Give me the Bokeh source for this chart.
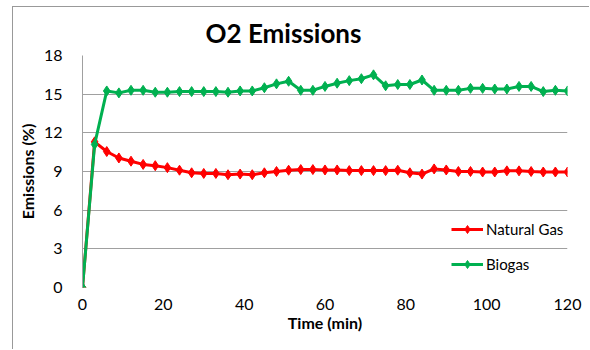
from bokeh.plotting import figure
from bokeh.models import FixedTicker, Legend, LegendItem, Range1d
from bokeh.embed import file_html
from bokeh.resources import INLINE

time_min = [0, 3, 6, 9, 12, 15, 18, 21, 24, 27, 30, 33, 36, 39, 42, 45, 48, 51, 54, 57,
            60, 63, 66, 69, 72, 75, 78, 81, 84, 87, 90, 93, 96, 99, 102, 105, 108, 111,
            114, 117, 120]
natural_gas = [0, 11.3, 10.55, 10.05, 9.8, 9.55, 9.45, 9.3, 9.1, 8.9, 8.85, 8.85, 8.75,
               8.8, 8.75, 8.9, 9.0, 9.1, 9.15, 9.15, 9.12, 9.12, 9.07, 9.07, 9.07, 9.07,
               9.1, 8.9, 8.8, 9.2, 9.12, 9.0, 9.0, 8.96, 8.96, 9.05, 9.05, 9.0, 8.96,
               8.96, 8.96]
biogas = [0, 11.1, 15.25, 15.1, 15.3, 15.3, 15.15, 15.15, 15.2, 15.2, 15.2, 15.2, 15.15,
          15.25, 15.25, 15.5, 15.8, 16.0, 15.3, 15.3, 15.6, 15.85, 16.05, 16.2, 16.5,
          15.65, 15.75, 15.75, 16.1, 15.3, 15.3, 15.3, 15.45, 15.45, 15.4, 15.4, 15.6,
          15.6, 15.2, 15.3, 15.25]
x_ticks = [0, 20, 40, 60, 80, 100, 120]
y_ticks = [0, 3, 6, 9, 12, 15, 18]

FONT = "Lato"
RED = "#ff0000"
GREEN = "#00b050"
GRID = "#a0a0a0"

p = figure(width=577, height=343, output_backend="svg", toolbar_location=None,
           x_range=Range1d(0, 120), y_range=Range1d(0, 18),
           min_border_left=69, min_border_right=23, min_border_top=48,
           min_border_bottom=63)
p.margin = (6, 0, 0, 12)
p.styles = {"border-left": "1px solid #999999", "border-top": "1px solid #999999"}

p.title.text = "O2 Emissions"
p.title.align = "left"
p.title.offset = 123
p.title.standoff = 14
p.title.text_font = FONT
p.title.text_font_size = "26px"
p.title.text_font_style = "bold"
p.title.text_color = "#000000"

p.outline_line_color = None
p.background_fill_color = "white"
p.border_fill_color = "white"

p.xgrid.grid_line_color = None
p.ygrid.grid_line_color = GRID
p.ygrid.ticker = FixedTicker(ticks=y_ticks)

p.xaxis.ticker = FixedTicker(ticks=x_ticks)
p.yaxis.ticker = FixedTicker(ticks=y_ticks)
p.xaxis.axis_line_color = None
p.yaxis.axis_line_color = GRID
for ax in (p.xaxis, p.yaxis):
    ax.major_tick_line_color = None
    ax.minor_tick_line_color = None
    ax.major_label_text_font = FONT
    ax.major_label_text_font_size = "16px"
    ax.major_label_text_color = "#000000"
    ax.axis_label_text_font = FONT
    ax.axis_label_text_font_size = "16px"
    ax.axis_label_text_font_style = "bold"
    ax.axis_label_text_color = "#000000"
p.xaxis.axis_label = "Time (min)"
p.yaxis.axis_label = "Emissions (%)"
p.xaxis.major_label_standoff = 5
p.xaxis.axis_label_standoff = 0
p.yaxis.major_label_standoff = 14
p.yaxis.axis_label_standoff = 4

r_ng_line = p.line(time_min, natural_gas, line_color=RED, line_width=3)
r_ng_pts = p.scatter(time_min, natural_gas, marker="diamond", size=10,
                     fill_color=RED, line_color=RED)
r_bg_line = p.line(time_min, biogas, line_color=GREEN, line_width=3)
r_bg_pts = p.scatter(time_min, biogas, marker="diamond", size=10,
                     fill_color=GREEN, line_color=GREEN)

legend = Legend(items=[
    LegendItem(label="Natural Gas", renderers=[r_ng_line, r_ng_pts]),
    LegendItem(label="Biogas", renderers=[r_bg_line, r_bg_pts]),
], location=(369, 13))
legend.background_fill_alpha = 0
legend.border_line_color = None
legend.padding = 0
legend.margin = 0
legend.glyph_width = 32
legend.glyph_height = 20
legend.label_height = 20
legend.spacing = 15
legend.label_standoff = 3
legend.label_text_font = FONT
legend.label_text_font_size = "15px"
legend.label_text_color = "#000000"
p.add_layout(legend, "center")

open("out.html", "w").write(file_html(p, INLINE))
